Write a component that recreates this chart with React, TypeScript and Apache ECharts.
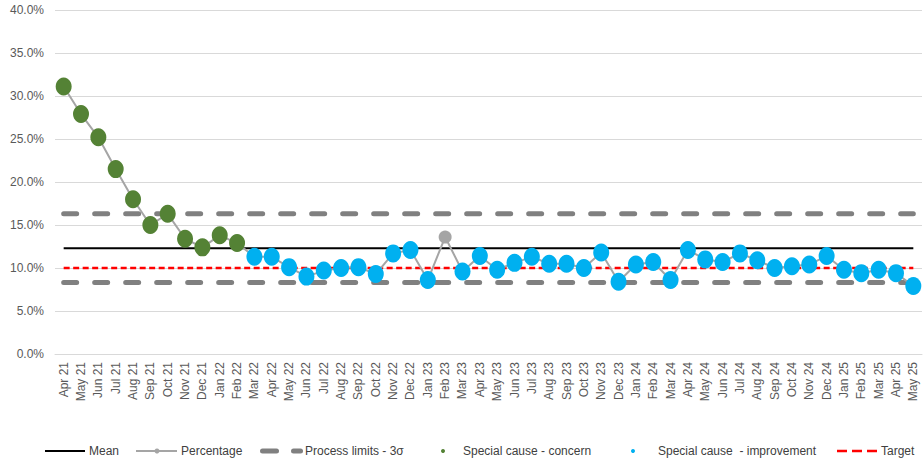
import React, { useEffect, useRef } from "react";
import * as echarts from "echarts";

const categories = [
  "Apr 21", "May 21", "Jun 21", "Jul 21", "Aug 21", "Sep 21", "Oct 21", "Nov 21", "Dec 21",
  "Jan 22", "Feb 22", "Mar 22", "Apr 22", "May 22", "Jun 22", "Jul 22", "Aug 22", "Sep 22", "Oct 22", "Nov 22", "Dec 22",
  "Jan 23", "Feb 23", "Mar 23", "Apr 23", "May 23", "Jun 23", "Jul 23", "Aug 23", "Sep 23", "Oct 23", "Nov 23", "Dec 23",
  "Jan 24", "Feb 24", "Mar 24", "Apr 24", "May 24", "Jun 24", "Jul 24", "Aug 24", "Sep 24", "Oct 24", "Nov 24", "Dec 24",
  "Jan 25", "Feb 25", "Mar 25", "Apr 25", "May 25",
];

const percentage = [
  31.1, 27.9, 25.2, 21.5, 18.0, 15.0, 16.3, 13.4, 12.4,
  13.8, 12.9, 11.3, 11.3, 10.1, 9.0, 9.7, 10.0, 10.1, 9.3, 11.7, 12.1,
  8.6, 13.6, 9.6, 11.4, 9.8, 10.6, 11.3, 10.5, 10.5, 10.0, 11.8, 8.4,
  10.4, 10.7, 8.6, 12.1, 11.0, 10.7, 11.7, 10.9, 10.0, 10.2, 10.4, 11.4,
  9.8, 9.4, 9.8, 9.4, 7.9,
];

// C = special cause concern, I = special cause improvement, N = none
const status = [
  "C", "C", "C", "C", "C", "C", "C", "C", "C",
  "C", "C", "I", "I", "I", "I", "I", "I", "I", "I", "I", "I",
  "I", "N", "I", "I", "I", "I", "I", "I", "I", "I", "I", "I",
  "I", "I", "I", "I", "I", "I", "I", "I", "I", "I", "I", "I",
  "I", "I", "I", "I", "I",
];

const meanValue = 12.3;
const upperLimit = 16.3;
const lowerLimit = 8.3;
const targetValue = 10.0;

const yTicks = { min: 0, max: 40, interval: 5 };

const FONT = '"Liberation Sans", Arial, sans-serif';

export default function App() {
  const ref = useRef<HTMLDivElement>(null);

  useEffect(() => {
    if (!ref.current) return;
    const chart = echarts.init(ref.current, undefined, { renderer: "svg" });

    const constant = (v: number) => categories.map(() => v);
    const concern = percentage.map((v, i) => (status[i] === "C" ? v : null));
    const improvement = percentage.map((v, i) => (status[i] === "I" ? v : null));

    const ly = 451;
    const legendText = (x: number, text: string) => ({
      type: "text",
      silent: true,
      style: { x, y: ly, text, fill: "#404040", font: `12px ${FONT}`, verticalAlign: "middle", align: "left" },
    });

    chart.setOption({
      animation: false,
      backgroundColor: "#ffffff",
      grid: { left: 55, right: 1, top: 10, bottom: 108, containLabel: false },
      xAxis: {
        type: "category",
        data: categories,
        boundaryGap: true,
        axisLine: { show: true, lineStyle: { color: "#d9d9d9", width: 1 } },
        axisTick: { show: false },
        splitLine: { show: false },
        axisLabel: {
          interval: 0,
          rotate: 90,
          margin: 8,
          color: "#595959",
          fontSize: 12,
          fontFamily: FONT,
        },
      },
      yAxis: {
        type: "value",
        min: yTicks.min,
        max: yTicks.max,
        interval: yTicks.interval,
        axisLine: { show: false },
        axisTick: { show: false },
        splitLine: { show: true, lineStyle: { color: "#d9d9d9", width: 1 } },
        axisLabel: {
          margin: 11,
          color: "#595959",
          fontSize: 12,
          fontFamily: FONT,
          formatter: (v: number) => v.toFixed(1) + "%",
        },
      },
      series: [
        {
          name: "Mean",
          type: "line",
          data: constant(meanValue),
          symbol: "none",
          lineStyle: { color: "#000000", width: 2 },
          z: 2,
        },
        {
          name: "Process limits - 3σ",
          type: "line",
          data: constant(upperLimit),
          symbol: "none",
          lineStyle: { color: "#808080", width: 5, type: [13, 18], cap: "round" },
          z: 2,
        },
        {
          name: "Process limits - 3σ",
          type: "line",
          data: constant(lowerLimit),
          symbol: "none",
          lineStyle: { color: "#808080", width: 5, type: [13, 18], cap: "round" },
          z: 2,
        },
        {
          name: "Target",
          type: "line",
          data: constant(targetValue),
          symbol: "none",
          lineStyle: { color: "#ff0000", width: 2.5, type: [6, 3.5] },
          z: 2,
        },
        {
          name: "Percentage",
          type: "line",
          data: percentage,
          symbol: "circle",
          symbolSize: 13,
          showSymbol: true,
          itemStyle: { color: "#a5a5a5", borderWidth: 0 },
          lineStyle: { color: "#a5a5a5", width: 2 },
          z: 3,
        },
        {
          name: "Special cause - concern",
          type: "scatter",
          data: concern,
          symbol: "circle",
          symbolSize: [16, 18],
          itemStyle: { color: "#548235", borderWidth: 0, opacity: 1 },
          z: 4,
        },
        {
          name: "Special cause  - improvement",
          type: "scatter",
          data: improvement,
          symbol: "circle",
          symbolSize: [16, 18],
          itemStyle: { color: "#00b0f0", borderWidth: 0, opacity: 1 },
          z: 4,
        },
      ],
      graphic: [
        { type: "line", silent: true, shape: { x1: 45, y1: ly, x2: 85, y2: ly }, style: { stroke: "#000000", lineWidth: 2 } },
        legendText(89, "Mean"),
        { type: "line", silent: true, shape: { x1: 136, y1: ly, x2: 177, y2: ly }, style: { stroke: "#a5a5a5", lineWidth: 2 } },
        { type: "circle", silent: true, shape: { cx: 157, cy: ly, r: 2.5 }, style: { fill: "#a5a5a5" } },
        legendText(181, "Percentage"),
        { type: "line", silent: true, shape: { x1: 262.5, y1: ly, x2: 276.5, y2: ly }, style: { stroke: "#808080", lineWidth: 5, lineCap: "round" } },
        { type: "line", silent: true, shape: { x1: 293.5, y1: ly, x2: 300.5, y2: ly }, style: { stroke: "#808080", lineWidth: 5, lineCap: "round" } },
        legendText(305, "Process limits - 3σ"),
        { type: "circle", silent: true, shape: { cx: 443, cy: ly, r: 2 }, style: { fill: "#548235" } },
        legendText(463, "Special cause - concern"),
        { type: "circle", silent: true, shape: { cx: 633, cy: ly, r: 2 }, style: { fill: "#00b0f0" } },
        legendText(658, "Special cause  - improvement"),
        { type: "line", silent: true, shape: { x1: 837, y1: ly, x2: 877, y2: ly }, style: { stroke: "#ff0000", lineWidth: 2.5, lineDash: [10, 5] } },
        legendText(881, "Target"),
      ],
    });

    return () => chart.dispose();
  }, []);

  return (
    <div
      ref={ref}
      style={{ position: "absolute", left: 0, top: 0, width: 923, height: 462 }}
    />
  );
}
